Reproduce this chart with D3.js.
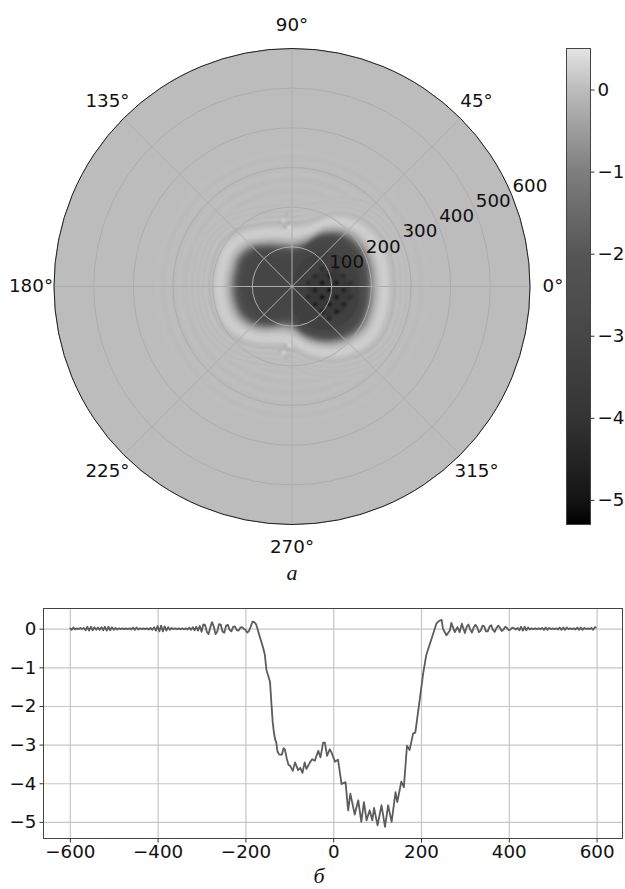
<!DOCTYPE html>
<html>
<head>
<meta charset="utf-8">
<script src="https://cdn.jsdelivr.net/npm/d3@7"></script>
<style>
  body { margin: 0; background: #fff; }
  text { font-family: "DejaVu Sans", sans-serif; font-size: 18.3px; fill: #111; }
  .caption { font-family: "Liberation Serif", serif; font-style: italic; font-size: 22px; }
</style>
</head>
<body>
<div id="chart"></div>
<script>
// colour bar
const barValues = [-5.3, -5, -4, -3, -2, -1, 0, 0.5];
const barGrays = ["#000000", "#141414", "#343434", "#464646", "#565656", "#7e7e7e", "#bcbcbc", "#e4e4e4"];
const barTicks = [-5, -4, -3, -2, -1, 0];

// polar map: edge of the dark blob (radius at each angle)
const edgeAngles = [0, 15, 30, 45, 60, 75, 90, 105, 120, 135, 150, 165, 180, 195, 210, 225, 240, 255, 270, 285, 300, 315, 330, 345];
const edgeRadii = [200, 202, 200, 187, 156, 114, 102, 108, 122, 142, 152, 150, 150, 150, 148, 136, 118, 102, 102, 130, 160, 186, 202, 202];
// bands going inwards from the outside, offset from the edge and value
const bandOffsets = [112, 105, 98, 91, 84, 77, 70, 63, 54, 44, 34, 27, 21, 15, 9, 3, -3, -9, -15, -21, -29, -40];
const bandValues = [0.03, -0.03, 0.04, -0.04, 0.05, -0.05, 0.07, -0.09, 0.05, 0.2, 0.23, 0.16, 0.03, -0.18, -0.5, -0.95, -1.55, -2.1, -2.55, -2.85, -3.0, -3.1];
// faint rings further out
const ringRadii = [228, 242, 256, 270, 284, 298, 312, 326, 340];
const ringValues = [0.04, -0.04, 0.04, -0.04, 0.035, -0.035, 0.03, -0.03, 0.02];
// darker part of the right lobe
const coreCenter = [85, -15];
const coreAngles = [0, 45, 90, 135, 180, 225, 270, 315];
const coreOuter = [85, 95, 100, 95, 85, 95, 95, 90];
const coreInner = [62, 62, 55, 52, 48, 52, 60, 65];
const coreValues = [-3.4, -3.8];
// dark dots in the right lobe
const spotX = [40, 58, 76, 94, 112, 130, 148];
const spotY = [45, 27, 9, -9, -27, -45, -63, -81];
const spotValues = [
  [null, null, -4.2, null, -4.2, null, null],
  [null, -4.3, null, -4.6, null, -4.2, null],
  [-4.2, null, -4.9, null, -4.9, null, -4.2],
  [null, -4.7, null, -5.1, null, -4.7, null],
  [-4.3, null, -5.1, null, -4.9, null, -4.2],
  [null, -4.7, null, -5.0, null, -4.6, null],
  [null, null, -4.7, null, -4.7, null, null],
  [null, null, null, -4.4, null, null, null]
];
// speckles above and below the notches
const speckleX = [-14, -22, -10, -30, -6, -18, -14, -22, -10, -30, -6, -18];
const speckleY = [180, 167, 160, 162, 148, 150, -180, -167, -160, -162, -148, -150];
const speckleV = [-0.15, 0.3, -0.2, -0.15, 0.35, -0.2, -0.15, 0.3, -0.2, -0.15, 0.35, -0.2];

const radialTicks = [100, 200, 300, 400, 500, 600];
const angleTicks = [0, 45, 90, 135, 180, 225, 270, 315];

// lower plot: section through the map
const leftTail = [
  0.02, -0.03, 0.03, -0.02, 0.01, -0.01, 0.02, -0.01, 0.02, -0.04, 0.05, -0.05, 0.05, -0.04, 0.04, -0.03, 0.03, -0.03, 0.04, -0.04, 0.05, -0.05, 0.05, -0.04, 0.04, -0.03,
  0.02, -0.02, 0.01, -0.01, 0.01, -0.01, 0.01, -0.01, 0.01, -0.02, 0.03, -0.03, 0.03, -0.02, 0.01, -0.01, 0.01, -0.01, 0.01, -0.02, 0.02, -0.03, 0.04, -0.05, 0.07,
  -0.07, 0.08, -0.07, 0.06, -0.05, 0.04, -0.03, 0.02, -0.01, 0.01, -0.01, 0.01, -0.01, 0.01, -0.01, 0.01, -0.02, 0.03, -0.03, 0.04, -0.04, 0.05, -0.05, 0.07, -0.08,
  0.11, 0.10, -0.08, -0.14, 0.04, 0.17, 0.05, -0.14, -0.07, 0.12, 0.10, -0.08, -0.10, 0.08, 0.10, -0.03, -0.07, 0.05, 0.06, -0.03, -0.05, 0.02, 0.04, 0.00, -0.03
];
const midX = [-196, -192, -188, -184, -180, -176, -172, -168, -164, -160, -156, -152, -148, -144, -141, -138, -135, -132, -130, -127, -123, -117, -113, -110, -106, -102, -98, -92, -87, -80, -75, -70, -65, -61, -53, -48, -42, -34, -29, -23, -19, -14, -8, -4, 4, 11, 19, 28, 34, 39, 49, 57, 64, 70, 76, 83, 89, 93, 101, 110, 118, 125, 133, 142, 146, 155, 161, 168, 174, 182, 187, 197, 205, 212, 224, 235, 241, 247, 250, 258, 266, 269, 277, 283, 288, 293, 300];
const midY = [-0.10, -0.06, 0.05, 0.18, 0.17, 0.12, -0.02, -0.18, -0.33, -0.48, -0.66, -1.08, -1.22, -1.37, -1.9, -2.4, -2.7, -2.88, -2.92, -3.18, -3.26, -3.26, -3.09, -3.13, -3.35, -3.52, -3.55, -3.68, -3.46, -3.66, -3.6, -3.73, -3.46, -3.63, -3.46, -3.38, -3.42, -3.16, -3.33, -2.95, -2.95, -3.29, -3.12, -3.2, -3.44, -3.39, -4.02, -3.97, -4.7, -4.27, -4.81, -4.44, -5.0, -4.49, -4.96, -4.7, -4.96, -4.64, -5.09, -4.57, -5.13, -4.57, -5.0, -4.23, -4.49, -3.96, -4.1, -3.03, -3.14, -2.71, -2.69, -1.84, -1.15, -0.68, -0.26, 0.13, 0.2, 0.23, 0.0, -0.17, -0.04, 0.15, -0.09, 0.04, -0.09, 0.13, -0.11];
const rightTail = [
  0.05, 0.11, -0.02, -0.10, 0.03, 0.10, 0.03, -0.09, -0.05, 0.08, 0.06, -0.07, -0.07, 0.05, 0.09, -0.03,
  -0.08, 0.02, 0.08, 0.02, -0.06, -0.02, 0.05, 0.02, -0.04,
  -0.02, 0.03, 0.01, -0.02, 0.02, -0.04, 0.05, -0.05, 0.05, -0.04,
  0.03, -0.02, 0.01, -0.01, 0.01, -0.01, 0.01, -0.01, 0.02, -0.03,
  0.03, -0.03, 0.02, -0.01, 0.01, -0.01, 0.01, -0.02, 0.03, -0.03,
  0.03, -0.03, 0.03, -0.01, 0.01, -0.01, 0.01, -0.02, 0.03, -0.03,
  0.03, -0.03, 0.02, -0.01, 0.01, -0.01, 0.02, -0.03, 0.04, 0.03
];
const lineTicksX = [-600, -400, -200, 0, 200, 400, 600];
const lineTicksY = [-5, -4, -3, -2, -1, 0];

let svg = d3.select("#chart").append("svg")
  .attr("width", 625)
  .attr("height", 889)
  .style("display", "block");

let defs = svg.append("defs");
defs.append("filter").attr("id", "soft")
  .attr("filterUnits", "userSpaceOnUse")
  .attr("x", -300).attr("y", -300).attr("width", 600).attr("height", 600)
  .append("feGaussianBlur").attr("stdDeviation", 1.3);

let color = d3.scaleLinear().domain(barValues).range(barGrays);
let minus = d => String(d).replace("-", "\u2212");

// ---- polar map ----
let cx = 292, cy = 286.5, outer = 238;
let r = d3.scaleLinear().domain([0, 600]).range([0, outer]);
let rad = deg => (90 - deg) * Math.PI / 180; // d3 radial angle: 0 is up, clockwise

defs.append("clipPath").attr("id", "disc").append("circle").attr("r", outer);

let polar = svg.append("g").attr("transform", "translate(" + cx + "," + cy + ")");
polar.append("circle").attr("r", outer).attr("fill", color(0));

let map = polar.append("g").attr("clip-path", "url(#disc)").append("g").attr("filter", "url(#soft)");

map.selectAll(".ring").data(ringRadii).enter().append("circle")
  .attr("class", "ring")
  .attr("r", d => r(d))
  .attr("fill", "none")
  .attr("stroke", (d, i) => color(ringValues[i]))
  .attr("stroke-width", 2.6);

let radial = d3.lineRadial().curve(d3.curveCatmullRomClosed);

bandOffsets.forEach((off, b) => {
  map.append("path")
    .attr("d", radial(edgeAngles.map((a, i) => [rad(a), r(edgeRadii[i] + off)])))
    .attr("fill", color(bandValues[b]));
});

// right lobe
[coreOuter, coreInner].forEach((radii, k) => {
  map.append("path")
    .attr("transform", "translate(" + r(coreCenter[0]) + "," + (-r(coreCenter[1])) + ")")
    .attr("d", radial(coreAngles.map((a, i) => [rad(a), r(radii[i])])))
    .attr("fill", color(coreValues[k]));
});

spotValues.forEach((row, j) => {
  row.forEach((v, i) => {
    if (v === null) return;
    map.append("circle")
      .attr("cx", r(spotX[i]))
      .attr("cy", -r(spotY[j]))
      .attr("r", 2.4)
      .attr("fill", color(v));
  });
});

speckleX.forEach((x, i) => {
  map.append("circle")
    .attr("cx", r(x))
    .attr("cy", -r(speckleY[i]))
    .attr("r", 2)
    .attr("fill", color(speckleV[i]));
});

// grid
polar.selectAll(".grid-r").data(radialTicks).enter().append("circle")
  .attr("class", "grid-r")
  .attr("r", d => r(d))
  .attr("fill", "none")
  .attr("stroke", "#adadad")
  .attr("stroke-width", 1);

polar.selectAll(".grid-a").data(angleTicks).enter().append("line")
  .attr("class", "grid-a")
  .attr("x2", d => outer * Math.cos(d * Math.PI / 180))
  .attr("y2", d => -outer * Math.sin(d * Math.PI / 180))
  .attr("stroke", "#adadad")
  .attr("stroke-width", 1);

polar.append("circle")
  .attr("r", outer)
  .attr("fill", "none")
  .attr("stroke", "#222")
  .attr("stroke-width", 1);

polar.selectAll(".label-a").data(angleTicks).enter().append("text")
  .attr("class", "label-a")
  .attr("text-anchor", "middle")
  .attr("dominant-baseline", "central")
  .attr("x", d => 261 * Math.cos(d * Math.PI / 180))
  .attr("y", d => -261 * Math.sin(d * Math.PI / 180) - 1)
  .text(d => d + "°");

let labelAngle = 22.5 * Math.PI / 180;
polar.selectAll(".label-r").data(radialTicks).enter().append("text")
  .attr("class", "label-r")
  .attr("text-anchor", "middle")
  .attr("dominant-baseline", "central")
  .attr("x", d => r(d) * Math.cos(labelAngle) + 18)
  .attr("y", d => -r(d) * Math.sin(labelAngle) - 10)
  .text(d => d);

// ---- colour bar ----
let barY = d3.scaleLinear().domain([-5.3, 0.5]).range([524.5, 48.5]);

let gradient = defs.append("linearGradient").attr("id", "bar")
  .attr("x1", 0).attr("y1", 1).attr("x2", 0).attr("y2", 0);
gradient.selectAll("stop").data(barValues).enter().append("stop")
  .attr("offset", d => (d + 5.3) / 5.8)
  .attr("stop-color", d => color(d));

svg.append("rect")
  .attr("x", 566.5).attr("y", 48.5)
  .attr("width", 24).attr("height", 476)
  .attr("fill", "url(#bar)")
  .attr("stroke", "#444");

let barAxis = svg.append("g")
  .attr("transform", "translate(590.5,0)")
  .call(d3.axisRight(barY).tickValues(barTicks).tickSize(4).tickPadding(3).tickFormat(minus));
barAxis.select(".domain").remove();
barAxis.selectAll("text").style("font-size", "18.3px").style("font-family", "DejaVu Sans");
barAxis.selectAll("line").attr("stroke", "#333");

svg.append("text").attr("class", "caption")
  .attr("x", 292).attr("y", 580)
  .attr("text-anchor", "middle")
  .text("а");

// ---- section plot ----
let margin = {top: 608.5, right: 2.5, bottom: 50.5, left: 43.5},
    width = 625 - margin.left - margin.right,
    height = 889 - margin.top - margin.bottom;

let plot = svg.append("g").attr("transform", "translate(" + margin.left + "," + margin.top + ")");

let x = d3.scaleLinear().domain([-660, 659]).range([0, width]);
let y = d3.scaleLinear().domain([-5.43, 0.523]).range([height, 0]);

let xGrid = plot.append("g").attr("transform", "translate(0," + height + ")")
  .call(d3.axisBottom(x).tickValues(lineTicksX).tickSize(-height).tickFormat(""));
let yGrid = plot.append("g")
  .call(d3.axisLeft(y).tickValues(lineTicksY).tickSize(-width).tickFormat(""));
[xGrid, yGrid].forEach(g => {
  g.select(".domain").remove();
  g.selectAll("line").attr("stroke", "#c6c6c6").attr("stroke-width", 1.2);
});

let profileX = d3.range(-600, -196, 4).concat(midX, d3.range(304, 601, 4));
let profileY = leftTail.concat(midY, rightTail);

plot.append("path")
  .datum(d3.zip(profileX, profileY))
  .attr("fill", "none")
  .attr("stroke", "#5c5c5c")
  .attr("stroke-width", 1.8)
  .attr("stroke-linejoin", "round")
  .attr("d", d3.line().x(d => x(d[0])).y(d => y(d[1])));

plot.append("rect")
  .attr("width", width).attr("height", height)
  .attr("fill", "none")
  .attr("stroke", "#444");

let xAxis = plot.append("g").attr("transform", "translate(0," + height + ")")
  .call(d3.axisBottom(x).tickValues(lineTicksX).tickSize(4).tickPadding(3).tickFormat(minus));
let yAxis = plot.append("g")
  .call(d3.axisLeft(y).tickValues(lineTicksY).tickSize(4).tickPadding(3).tickFormat(minus));
[xAxis, yAxis].forEach(g => {
  g.select(".domain").remove();
  g.selectAll("text").style("font-size", "18.3px").style("font-family", "DejaVu Sans");
  g.selectAll("line").attr("stroke", "#333");
});

svg.append("text").attr("class", "caption")
  .attr("x", 319).attr("y", 883)
  .attr("text-anchor", "middle")
  .text("б");
</script>
</body>
</html>
